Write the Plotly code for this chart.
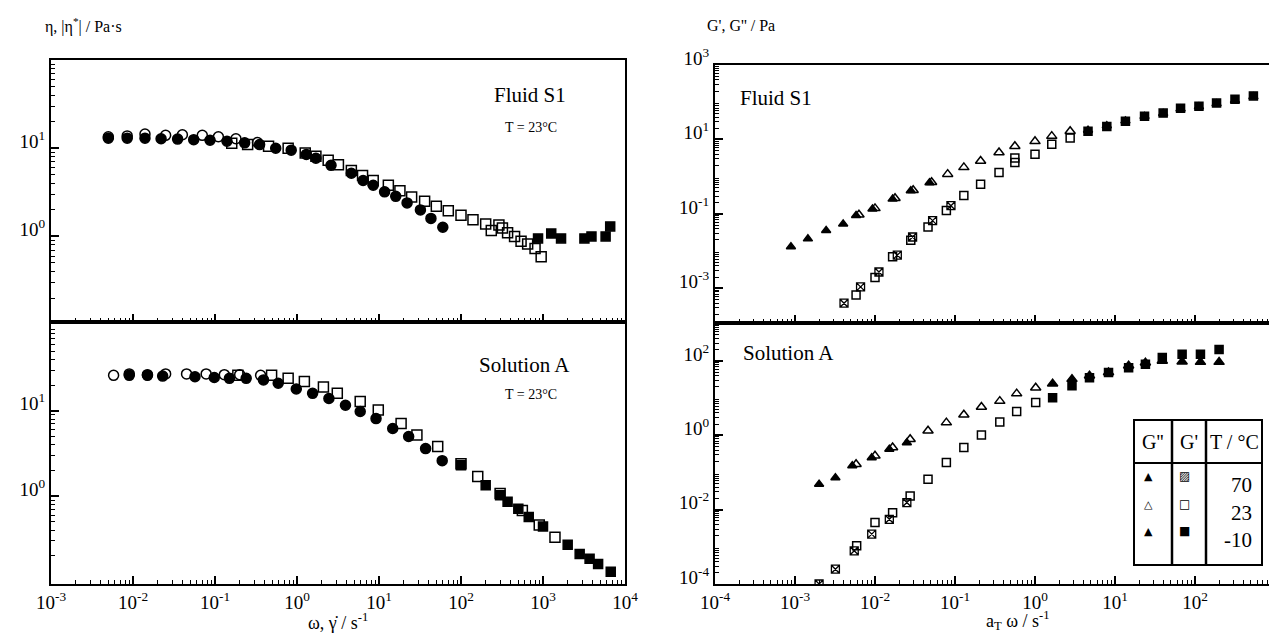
import math
import plotly.graph_objects as go

# ---------------- DATA ----------------
# Left top: Fluid S1, viscosity vs shear rate / frequency
s1_fc_x = [0.005, 0.0085, 0.014, 0.022, 0.035, 0.055, 0.087, 0.14, 0.23, 0.35, 0.55, 0.85, 1.3, 1.7, 2.6, 4.6, 6.4, 8.5, 11.7, 16, 22, 32, 43, 60]
s1_fc_y = [13, 13, 13, 12.8, 12.7, 12.5, 12.3, 12, 11.5, 11, 10, 9.5, 8.5, 7.7, 6.4, 5.2, 4.3, 3.8, 3.2, 2.85, 2.4, 2.0, 1.6, 1.27]
s1_oc_x = [0.005, 0.0085, 0.014, 0.025, 0.04, 0.07, 0.11, 0.18, 0.33]
s1_oc_y = [13.5, 13.8, 14.5, 14, 14.2, 14, 13.5, 12.8, 11.6]
s1_os_x = [0.16, 0.25, 0.45, 0.78, 1.26, 1.7, 2.4, 3.2, 4.6, 6.3, 8.5, 13, 18, 25, 36, 50, 70, 100, 140, 200, 234, 290, 320, 370, 450, 540, 650, 800, 950]
s1_os_y = [11.4, 11, 10.5, 10, 8.8, 8.1, 7.3, 6.5, 5.6, 4.9, 4.3, 3.8, 3.3, 2.8, 2.5, 2.2, 1.95, 1.74, 1.55, 1.38, 1.17, 1.35, 1.25, 1.1, 1.0, 0.88, 0.82, 0.73, 0.59]
s1_fs_x = [870, 1260, 1660, 3200, 3900, 5800, 6600]
s1_fs_y = [0.95, 1.08, 0.95, 0.95, 1.0, 1.0, 1.3]

# Left bottom: Solution A
a_fc_x = [0.009, 0.015, 0.023, 0.057, 0.098, 0.15, 0.24, 0.39, 0.59, 0.98, 1.55, 2.45, 3.9, 5.9, 9.2, 14.7, 23, 37, 59]
a_fc_y = [26, 26, 25.5, 25, 24.5, 24, 24, 23, 21, 18, 16, 13.9, 11.6, 9.8, 8.1, 6.2, 5.0, 3.6, 2.6]
a_oc_x = [0.0058, 0.009, 0.015, 0.025, 0.045, 0.078, 0.13, 0.2, 0.36]
a_oc_y = [26, 27, 26.5, 27, 27, 27, 26.5, 26.5, 26]
a_os_x = [0.19, 0.49, 0.78, 1.23, 2.1, 3.1, 5.9, 9.8, 18.6, 29, 52, 100, 160, 300, 560, 900, 1400]
a_os_y = [26, 26, 24, 22, 19, 16, 12.8, 10.2, 7.1, 5.2, 3.8, 2.4, 1.7, 1.07, 0.68, 0.46, 0.33]
a_fs_x = [100, 200, 300, 370, 500, 670, 1000, 2000, 2800, 3700, 4700, 6700]
a_fs_y = [2.3, 1.34, 1.02, 0.86, 0.71, 0.57, 0.44, 0.27, 0.21, 0.185, 0.16, 0.13]

# Right top: Fluid S1, G'' and G' master curves
s1_g2_70_x = [8.9e-4, 1.45e-3, 2.45e-3, 4.0e-3, 5.8e-3, 9.3e-3, 0.0166, 0.028, 0.048]
s1_g2_70_y = [0.0132, 0.0214, 0.036, 0.054, 0.091, 0.135, 0.25, 0.42, 0.69]
s1_g2_23_x = [6.3e-3, 0.01, 0.0178, 0.030, 0.051, 0.081, 0.129, 0.209, 0.355, 0.56, 1.0, 1.62, 2.75]
s1_g2_23_y = [0.095, 0.141, 0.263, 0.43, 0.71, 1.17, 1.78, 2.63, 4.47, 6.6, 8.9, 12.3, 16.6]
s1_g2_m10_x = [4.6, 7.9, 13.5, 23.4, 40, 66, 112, 186, 316, 537]
s1_g2_m10_y = [17.8, 23.4, 31.6, 41.7, 50, 66, 76, 91, 112, 141]
s1_g1_70_x = [4.1e-3, 6.6e-3, 0.0112, 0.019, 0.0295, 0.0525, 0.089]
s1_g1_70_y = [4.0e-4, 1.1e-3, 2.75e-3, 7.8e-3, 0.024, 0.066, 0.166]
s1_g1_23_x = [5.8e-3, 0.01, 0.0166, 0.028, 0.046, 0.078, 0.129, 0.209, 0.355, 0.56, 0.56, 1.0, 1.62, 2.75]
s1_g1_23_y = [6.6e-4, 1.95e-3, 7.1e-3, 0.0195, 0.0447, 0.123, 0.31, 0.63, 1.29, 2.4, 3.2, 4.0, 7.4, 11]
s1_g1_m10_x = [4.6, 7.9, 13.5, 23.4, 40, 66, 112, 186, 316, 537]
s1_g1_m10_y = [16.6, 22.4, 30.9, 41.7, 51, 69, 78, 95, 120, 148]

# Right bottom: Solution A
a_g2_70_x = [2.0e-3, 3.2e-3, 5.2e-3, 9.1e-3, 0.0151, 0.025]
a_g2_70_y = [0.048, 0.072, 0.151, 0.25, 0.42, 0.63]
a_g2_23_x = [5.8e-3, 0.01, 0.0166, 0.0275, 0.046, 0.078, 0.129, 0.214, 0.363, 0.59, 1.02]
a_g2_23_y = [0.166, 0.28, 0.47, 0.78, 1.32, 2.19, 3.55, 5.75, 8.3, 13.2, 19]
a_g2_m10_x = [1.66, 2.9, 4.8, 8.3, 14.8, 24, 39, 69, 117, 200]
a_g2_m10_y = [24.5, 32.4, 40, 49, 74, 89, 100, 95, 93, 93]
a_g1_70_x = [2.0e-3, 3.2e-3, 5.5e-3, 9.1e-3, 0.0151, 0.025]
a_g1_70_y = [1.0e-4, 2.5e-4, 7.8e-4, 2.2e-3, 5.5e-3, 0.0155]
a_g1_23_x = [5.9e-3, 0.01, 0.0166, 0.0275, 0.046, 0.078, 0.129, 0.214, 0.363, 0.59, 1.02]
a_g1_23_y = [1.07e-3, 4.5e-3, 8.3e-3, 0.0234, 0.066, 0.186, 0.47, 1.02, 2.29, 4.37, 7.6]
a_g1_m10_x = [1.66, 2.9, 4.8, 8.3, 14.8, 24, 39, 69, 117, 200]
a_g1_m10_y = [10.2, 21.4, 35.5, 49, 66, 81, 123, 151, 151, 204]

legend_temps = ["70", "23", "-10"]

# ---------------- FIGURE ----------------
W, H = 1277, 633
SERIF = "Liberation Serif"
fig = go.Figure()


def px_x(v):
    return v / W


def px_y(v):
    return 1 - v / H


def add(xa, ya, x, y, symbol, size, lw=1.5):
    fig.add_trace(go.Scatter(
        x=x, y=y, xaxis=xa, yaxis=ya, mode="markers", showlegend=False,
        marker=dict(symbol=symbol, size=size, color="black",
                    line=dict(color="black", width=lw))))


# left top
add("x", "y", s1_fc_x, s1_fc_y, "circle", 10)
add("x", "y", s1_oc_x, s1_oc_y, "circle-open", 10)
add("x", "y", s1_os_x, s1_os_y, "square-open", 10)
add("x", "y", s1_fs_x, s1_fs_y, "square", 9)
# left bottom
add("x2", "y2", a_fc_x, a_fc_y, "circle", 10)
add("x2", "y2", a_oc_x, a_oc_y, "circle-open", 10)
add("x2", "y2", a_os_x, a_os_y, "square-open", 10)
add("x2", "y2", a_fs_x, a_fs_y, "square", 9)
# right top
add("x3", "y3", s1_g2_70_x, s1_g2_70_y, "triangle-up", 8)
add("x3", "y3", s1_g2_23_x, s1_g2_23_y, "triangle-up-open", 9)
add("x3", "y3", s1_g1_70_x, s1_g1_70_y, "square-x-open", 8, 1.3)
add("x3", "y3", s1_g1_23_x, s1_g1_23_y, "square-open", 8)
add("x3", "y3", s1_g2_m10_x, s1_g2_m10_y, "triangle-up", 8)
add("x3", "y3", s1_g1_m10_x, s1_g1_m10_y, "square", 8)
# right bottom
add("x4", "y4", a_g2_70_x, a_g2_70_y, "triangle-up", 8)
add("x4", "y4", a_g2_23_x, a_g2_23_y, "triangle-up-open", 9)
add("x4", "y4", a_g1_70_x, a_g1_70_y, "square-x-open", 8, 1.3)
add("x4", "y4", a_g1_23_x, a_g1_23_y, "square-open", 8)
add("x4", "y4", a_g2_m10_x, a_g2_m10_y, "triangle-up", 9)
add("x4", "y4", a_g1_m10_x, a_g1_m10_y, "square", 8)

TICKFONT = dict(family=SERIF, size=19, color="black")


def sup(k):
    return "10<sup>%d</sup>" % k


def log_axis(domain, rng, labelled, show_labels, anchor, shift=0):
    lo, hi = math.floor(rng[0]), math.ceil(rng[1])
    minor_vals = [m * 10.0 ** k for k in range(lo, hi) for m in range(2, 10)]
    return dict(
        type="log", domain=domain, range=rng, anchor=anchor, automargin=False,
        tickmode="array", tickvals=[10.0 ** k for k in labelled],
        ticktext=[sup(k) for k in labelled], ticklabelshift=shift,
        showticklabels=show_labels, tickfont=TICKFONT,
        ticks="inside", ticklen=8, tickwidth=1.5, tickcolor="black",
        showline=True, linewidth=2, linecolor="black", mirror=True,
        showgrid=False, zeroline=False,
        minor=dict(tickmode="array", tickvals=minor_vals, ticks="inside",
                   ticklen=4, tickwidth=1, tickcolor="black", showgrid=False),
    )


lx = [px_x(43), px_x(617)]
rx = [px_x(707), px_x(1267)]
lt = [px_y(314), px_y(52)]
lb = [px_y(576), px_y(314)]
rt = [px_y(315), px_y(57)]
rb = [px_y(576), px_y(315)]

fig.update_layout(
    width=W, height=H, margin=dict(l=0, r=0, t=0, b=0, pad=0, autoexpand=False),
    paper_bgcolor="white", plot_bgcolor="white", showlegend=False,
    xaxis=log_axis(lx, [-3, 4], list(range(-3, 5)), False, "y"),
    yaxis=log_axis(lt, [-0.97, 2.0], [0, 1], True, "x", -7),
    xaxis2=log_axis(lx, [-3, 4], list(range(-3, 5)), True, "y2"),
    yaxis2=log_axis(lb, [-1.03, 2.04], [0, 1], True, "x2", -7),
    xaxis3=log_axis(rx, [-4, 3], list(range(-4, 4)), False, "y3"),
    yaxis3=log_axis(rt, [-3.93, 3.0], [-3, -1, 1, 3], True, "x3", -7),
    xaxis4=log_axis(rx, [-4, 3], list(range(-4, 4)), True, "y4"),
    yaxis4=log_axis(rb, [-4.0, 3.02], [-4, -2, 0, 2], True, "x4", -7),
)

ann = []


def text(x, y, s, size=20, xanchor="center", yanchor="middle"):
    ann.append(dict(x=px_x(x), y=px_y(y), xref="paper", yref="paper", text=s,
                    showarrow=False, xanchor=xanchor, yanchor=yanchor,
                    font=dict(family=SERIF, size=size, color="black")))


text(35, 17, "η, |η<sup>*</sup>| / Pa·s", 16, "left")
text(697, 17, "G', G'' / Pa", 16, "left")
text(330, 613, "ω, γ̇ / s<sup>-1</sup>", 18)
text(1010, 612, "a<sub>T</sub> ω / s<sup>-1</sup>", 18)
text(522, 87, "Fluid S1", 21)
text(523, 120, "T = 23°C", 14)
text(516, 357, "Solution A", 21)
text(523, 386, "T = 23°C", 14)
text(730, 90, "Fluid S1", 21, "left")
text(733, 345, "Solution A", 21, "left")

# legend table
bx0, bx1, by0, by1 = 1126, 1254, 412, 557
c1, c2, hy = 1164, 1198, 455
shapes = [
    dict(type="rect", xref="paper", yref="paper", x0=px_x(bx0), x1=px_x(bx1),
         y0=px_y(by1), y1=px_y(by0), line=dict(color="black", width=2),
         fillcolor="white", layer="above"),
    dict(type="line", xref="paper", yref="paper", x0=px_x(c1), x1=px_x(c1),
         y0=px_y(by1), y1=px_y(by0), line=dict(color="black", width=2.5)),
    dict(type="line", xref="paper", yref="paper", x0=px_x(c2), x1=px_x(c2),
         y0=px_y(by1), y1=px_y(by0), line=dict(color="black", width=2.5)),
    dict(type="line", xref="paper", yref="paper", x0=px_x(bx0), x1=px_x(bx1),
         y0=px_y(hy), y1=px_y(hy), line=dict(color="black", width=2)),
]
text(1145, 434, "G''", 20)
text(1181, 434, "G'", 20)
text(1226, 434, "T / °C", 20)
row_y = [477, 505, 532]
g2_sym = ["▲", "△", "▲"]
g1_sym = ["▨", "□", "■"]
for ry, t, s2, s1 in zip(row_y, legend_temps, g2_sym, g1_sym):
    ann.append(dict(x=px_x(1147), y=px_y(ry), xref="paper", yref="paper", text=s2,
                    showarrow=False, font=dict(family="DejaVu Sans", size=11, color="black")))
    ann.append(dict(x=px_x(1184), y=px_y(ry), xref="paper", yref="paper", text=s1,
                    showarrow=False, font=dict(family="DejaVu Sans", size=12, color="black")))
    text(1246, ry, t, 21, "right")

fig.update_layout(annotations=ann, shapes=shapes)
fig.write_html("out.html")
